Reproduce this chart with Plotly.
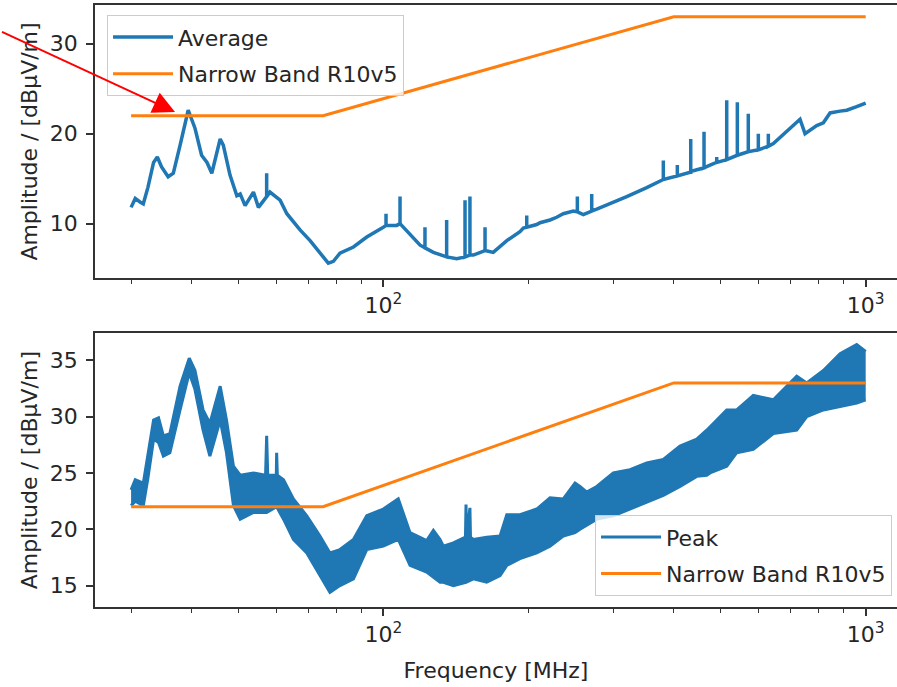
import math
import plotly.graph_objects as go

# ---------------- data ----------------
limit_freq = [30, 75, 400, 1000]
limit_val = [22, 22, 33, 33]

avg_freq = [30, 30.6, 31.3, 31.8, 32.5, 33.4, 34.0, 34.7, 35.8, 36.7, 37.9, 39.4, 40.7, 42.0, 43.1,
            44.1, 45.9, 46.6, 48.1, 49.7, 50.5, 51.7, 53.8, 55.1, 57.3, 57.3, 57.3, 58.2, 61.1, 63.1,
            67.2, 70.5, 73.9, 76.9, 78.8, 81.3, 86.7, 92.4, 100, 101.3, 101.3, 101.3, 106.6, 108.3,
            108.3, 108.3, 110, 119.2, 122, 122, 122, 127, 131.1, 135.3, 135.3, 135.3, 142, 147.7,
            147.7, 147.7, 151.2, 151.2, 151.2, 153.7, 162.5, 162.5, 162.5, 169, 174.6, 180.3, 192,
            195.1, 198.3, 198.3, 198.3, 208, 211.3, 221.6, 228.8, 236.1, 247.7, 252.5, 252.5, 252.5,
            259.8, 270.4, 270.4, 270.4, 277, 295.1, 319.6, 351.6, 380.6, 380.6, 380.6, 406.9, 406.9,
            406.9, 432.4, 433.8, 433.8, 433.8, 462.2, 462.2, 462.2, 475.6, 491.1, 491.1, 491.1, 506.8,
            515.1, 515.1, 515.1, 541.9, 541.9, 541.9, 571.0, 571.0, 571.0, 599.0, 599.0, 599.0, 628.3,
            628.3, 628.3, 643.5, 686, 730.9, 748.6, 791.5, 817, 843.6, 884.9, 913.6, 958, 1000]
avg_val = [11.8, 12.8, 12.4, 12.2, 14.0, 16.8, 17.4, 16.3, 15.2, 15.6, 18.7, 22.6, 20.6, 17.6, 16.8,
           15.6, 19.4, 18.7, 15.4, 13.1, 13.3, 12.0, 13.5, 11.8, 13.0, 15.6, 13.0, 13.5, 12.6, 11.1,
           9.3, 8.1, 6.7, 5.6, 5.8, 6.7, 7.4, 8.5, 9.6, 9.8, 11.1, 9.8, 9.8, 10.0,
           13.0, 10.0, 9.6, 7.6, 7.3, 9.6, 7.3, 6.8, 6.5, 6.3, 10.4, 6.3, 6.1, 6.3,
           12.6, 6.3, 6.5, 13.0, 6.5, 6.5, 7.0, 9.6, 7.0, 6.8, 7.5, 8.1, 9.1,
           9.5, 9.6, 10.9, 9.6, 9.9, 10.1, 10.4, 10.7, 11.1, 11.4, 11.3, 13.0, 11.3,
           11.0, 11.4, 13.3, 11.4, 11.6, 12.2, 13.0, 14.0, 14.9, 17.0, 14.9, 15.3, 16.5,
           15.3, 15.7, 15.7, 19.4, 15.8, 16.2, 20.2, 16.2, 16.5, 16.8, 17.4, 16.8, 17.0,
           17.1, 23.7, 17.1, 17.6, 23.5, 17.6, 18.0, 22.2, 18.0, 18.2, 20.0, 18.2, 18.6,
           20.0, 18.6, 18.9, 20.2, 21.6, 20.0, 20.9, 21.2, 22.3, 22.5, 22.6, 23.0, 23.4]

peak_hi_freq = [30, 30.6, 31.8, 32.5, 33.4, 34.2, 35.0, 36.1, 37.9, 39.6, 40.7, 42.3, 43.7, 45.9, 47.3,
                48.9, 50.5, 53.8, 57.0, 57.3, 57.6, 60.0, 60.1, 60.3, 62.1, 65.1, 69.4, 73.9, 77.5,
                81.3, 86.7, 92.4, 100, 107.4, 113.6, 123.0, 127.0, 131.1, 133.2, 139.7, 148.0, 148.4,
                148.8, 151.2, 151.6, 153.7, 163.8, 174.6, 180.3, 192.0, 208.0, 221.6, 236.1, 249.7,
                255.7, 264.0, 277.0, 299.8, 324.7, 351.6, 380.6, 412.1, 446.4, 468.2, 475.6, 515.1,
                540.3, 584.8, 643.5, 719.5, 754.7, 817.0, 884.9, 958.0, 1000]
peak_hi_val = [23.5, 24.4, 24.1, 26.5, 29.7, 29.9, 28.3, 28.5, 32.7, 35.2, 34.1, 30.6, 29.4, 32.7, 29.7,
               25.6, 24.8, 25.0, 24.8, 28.3, 24.8, 24.8, 26.8, 24.8, 24.4, 22.7, 21.2, 19.4, 17.9,
               18.2, 19.1, 21.2, 21.8, 22.7, 19.7, 19.0, 19.9, 19.1, 18.5, 18.8, 19.3, 22.2,
               19.3, 21.9, 19.3, 19.1, 19.3, 19.4, 21.3, 21.3, 21.8, 22.8, 22.7, 24.1,
               23.8, 23.3, 23.8, 25.0, 25.3, 25.9, 26.2, 27.4, 28.0, 28.8, 29.1, 30.6,
               30.6, 31.9, 31.5, 33.6, 33.0, 34.1, 35.6, 36.4, 35.8]

peak_lo_freq = [30, 30.6, 31.8, 32.5, 33.4, 34.2, 35.0, 36.1, 37.9, 39.6, 40.7, 42.3, 43.7, 45.9, 47.3,
                48.9, 50.5, 53.8, 57.3, 60.1, 62.1, 65.1, 69.4, 73.9, 77.5, 81.3, 86.7, 92.4, 100,
                107.4, 113.6, 123.0, 131.1, 133.2, 139.7, 148.4, 153.7, 163.8, 174.6, 180.3, 192.0,
                208.0, 221.6, 236.1, 249.7, 255.7, 277.0, 299.8, 324.7, 351.6, 380.6, 412.1, 446.4,
                468.2, 475.6, 515.1, 540.3, 584.8, 643.5, 719.5, 754.7, 817.0, 884.9, 958.0, 1000]
peak_lo_val = [22.1, 22.5, 22.1, 24.5, 28.0, 27.7, 26.5, 26.8, 30.6, 33.9, 32.4, 28.8, 26.5, 29.7, 26.8,
               22.1, 20.9, 21.5, 21.5, 22.0, 20.9, 19.1, 17.9, 15.9, 14.4, 15.0, 15.6, 18.2, 18.5,
               19.1, 16.8, 16.2, 15.3, 15.3, 15.0, 15.3, 15.6, 15.3, 15.9, 16.8, 17.4,
               17.9, 18.5, 19.4, 19.7, 20.0, 20.9, 21.2, 21.8, 22.4, 23.0, 23.8, 24.7,
               24.8, 25.0, 25.6, 26.8, 27.1, 28.5, 28.8, 30.0, 30.6, 30.9, 31.2, 31.5]

x_major = [100, 1000]
x_major_text = ["10<sup>2</sup>", "10<sup>3</sup>"]
x_minor = [30, 40, 50, 60, 70, 80, 90, 200, 300, 400, 500, 600, 700, 800, 900]
top_yticks = [10, 20, 30]
bot_yticks = [15, 20, 25, 30, 35]

# where the red arrow points (MHz, dBµV/m)
arrow_freq = 37.0
arrow_val = 22.4

BLUE = "#1f77b4"
ORANGE = "#ff7f0e"
FONT = "DejaVu Sans"
TXT = "#262626"
FS = 22

fig = go.Figure()

# top subplot
fig.add_trace(go.Scatter(x=avg_freq, y=avg_val, mode="lines", name="Average",
                         line=dict(color=BLUE, width=3.5), xaxis="x", yaxis="y",
                         legend="legend", legendgroup="a"))
fig.add_trace(go.Scatter(x=limit_freq, y=limit_val, mode="lines", name="Narrow Band R10v5",
                         line=dict(color=ORANGE, width=3), xaxis="x", yaxis="y",
                         legend="legend", legendgroup="b"))
# bottom subplot
fig.add_trace(go.Scatter(x=peak_hi_freq, y=peak_hi_val, mode="lines", name="Peak",
                         line=dict(color=BLUE, width=3), xaxis="x2", yaxis="y2",
                         legend="legend2", legendgroup="c"))
fig.add_trace(go.Scatter(x=peak_lo_freq, y=peak_lo_val, mode="lines", name="Peak",
                         line=dict(color=BLUE, width=3), fill="tonexty", fillcolor=BLUE,
                         xaxis="x2", yaxis="y2", showlegend=False, legend="legend2"))
fig.add_trace(go.Scatter(x=limit_freq, y=limit_val, mode="lines", name="Narrow Band R10v5",
                         line=dict(color=ORANGE, width=3), xaxis="x2", yaxis="y2",
                         legend="legend2", legendgroup="d"))

xcommon = dict(type="log", range=[1.4023, 3.0649], tickvals=x_major, ticktext=x_major_text,
               ticks="outside", ticklen=7, tickwidth=1.5, tickcolor="#333",
               minor=dict(tickvals=x_minor, ticks="outside", ticklen=4, tickwidth=1.2, tickcolor="#333"),
               showline=True, linecolor="#333", linewidth=1.5, mirror=True,
               showgrid=False, zeroline=False, tickfont=dict(family=FONT, size=FS, color=TXT))
ycommon = dict(ticks="outside", ticklen=7, tickwidth=1.5, tickcolor="#333",
               showline=True, linecolor="#333", linewidth=1.5, mirror=False, ticklabelstandoff=4,
               showgrid=False, zeroline=False, tickfont=dict(family=FONT, size=FS, color=TXT),
               title=dict(text="Amplitude / [dBμV/m]", font=dict(family=FONT, size=FS, color=TXT),
                          standoff=6))

legcommon = dict(font=dict(family=FONT, size=FS, color=TXT), bgcolor="rgba(255,255,255,0.8)",
                 bordercolor="#cccccc", borderwidth=1, traceorder="grouped", tracegroupgap=5,
                 itemwidth=60)

fig.update_layout(
    width=897, height=687,
    margin=dict(l=95, r=0, t=5, b=80),
    paper_bgcolor="white", plot_bgcolor="white",
    xaxis=dict(domain=[0, 1], anchor="y", **xcommon),
    yaxis=dict(domain=[0.5465, 1], anchor="x", range=[3.95, 34.3], tickvals=top_yticks, **ycommon),
    xaxis2=dict(domain=[0, 1], anchor="y2",
                title=dict(text="Frequency [MHz]", font=dict(family=FONT, size=FS, color=TXT), standoff=16),
                **xcommon),
    yaxis2=dict(domain=[0, 0.4546], anchor="x2", range=[13.1, 37.4], tickvals=bot_yticks, **ycommon),
    legend=dict(x=0.015, y=0.983, xanchor="left", yanchor="top", **legcommon),
    legend2=dict(x=0.9938, y=0.018, xanchor="right", yanchor="bottom", **legcommon),
    showlegend=True,
)

# red arrow (annotation x on a log axis is given in log10 units)
fig.add_annotation(x=math.log10(arrow_freq), y=arrow_val, xref="x", yref="y", text="a",
                   font=dict(size=2, color="rgba(0,0,0,0)"),
                   showarrow=True, ax=-176, ay=-81, axref="pixel", ayref="pixel",
                   arrowhead=2, arrowsize=2.2, arrowwidth=2, arrowcolor="red", standoff=0,
                   startstandoff=0)

fig.write_html("out.html")
